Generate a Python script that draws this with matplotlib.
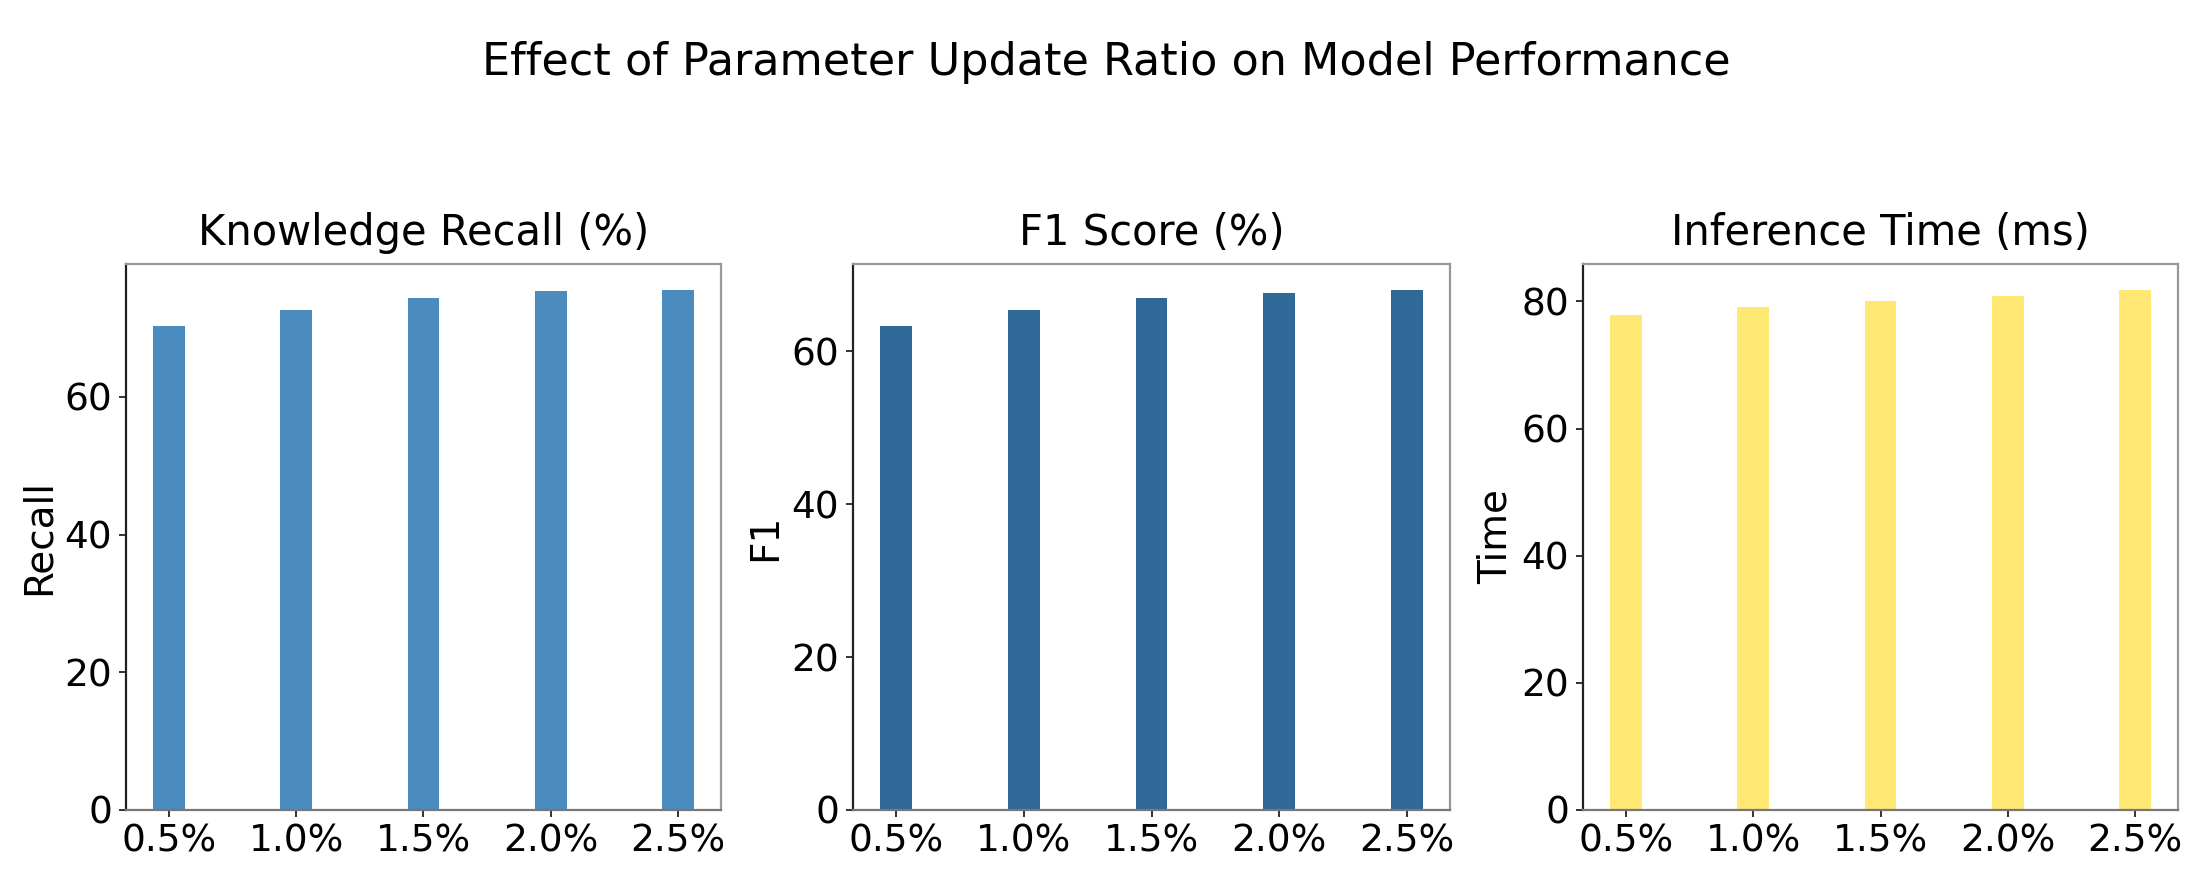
import matplotlib
matplotlib.use("Agg")
import matplotlib.pyplot as plt

# Data
ratios = ["0.5%", "1.0%", "1.5%", "2.0%", "2.5%"]
recall = [70.3, 72.6, 74.3, 75.4, 75.5]
f1 = [63.3, 65.4, 67.0, 67.6, 68.0]
inference_time = [77.9, 79.2, 80.1, 80.9, 81.8]

titles = ["Knowledge Recall (%)", "F1 Score (%)", "Inference Time (ms)"]
ylabels = ["Recall", "F1", "Time"]
colors = ["#4B8BBE", "#306998", "#FFE873"]
series = [recall, f1, inference_time]

plt.rcParams['font.family'] = ['DejaVu Sans']

W, H = 2212, 886
fig = plt.figure(figsize=(W / 100, H / 100), dpi=100)

lefts = [126, 853, 1583]
widths = [595, 597, 595]
top_px, bottom_px = 264, 810

for i in range(3):
    ax = fig.add_axes([lefts[i] / W, 1 - bottom_px / H,
                       widths[i] / W, (bottom_px - top_px) / H])
    x = list(range(len(ratios)))
    ax.bar(x, series[i], width=0.25, color=colors[i])
    ax.set_xticks(x)
    ax.set_xticklabels(ratios)
    ax.set_title(titles[i], fontsize=30, pad=14)
    ax.set_ylabel(ylabels[i], fontsize=28, labelpad=5)
    ax.tick_params(axis='both', labelsize=27, length=5, width=1.3, pad=5,
                   color='#222222')
    ax.spines['left'].set_color('#222222')
    ax.spines['bottom'].set_color('#777777')
    ax.spines['top'].set_color('#999999')
    ax.spines['right'].set_color('#999999')
    for s in ax.spines.values():
        s.set_linewidth(1.6)

fig.text(0.5, 1 - 75 / H, "Effect of Parameter Update Ratio on Model Performance",
         ha='center', va='baseline', fontsize=32)

fig.savefig("out.png", dpi=100)
